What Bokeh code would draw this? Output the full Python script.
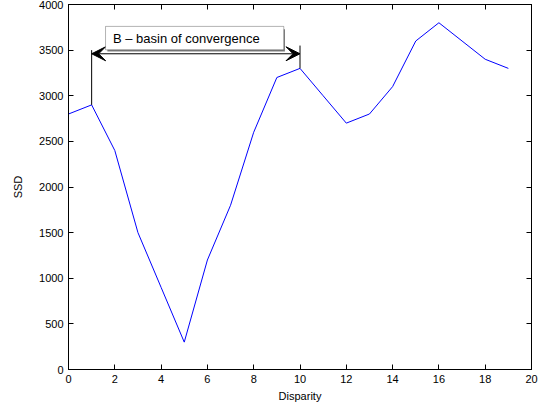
from bokeh.plotting import figure
from bokeh.models import (Range1d, LinearAxis, FixedTicker, Arrow, VeeHead,
                          BoxAnnotation, Label, CustomJSTickFormatter)
from bokeh.embed import file_html
from bokeh.resources import INLINE

# data
disparity = [0, 1, 2, 3, 4, 5, 6, 7, 8, 9, 10, 11, 12, 13, 14, 15, 16, 17, 18, 19]
ssd = [2800, 2900, 2400, 1500, 900, 300, 1200, 1800, 2600, 3200, 3300, 3000,
       2700, 2800, 3100, 3600, 3800, 3600, 3400, 3300]
x_ticks = list(range(0, 21, 2))
y_ticks = list(range(0, 4001, 500))
annotation_text = "B \u2013 basin of convergence"
basin_start, basin_end = 1, 10

FONT = "Liberation Sans"

p = figure(width=552, height=411, output_backend="svg", toolbar_location=None,
           x_range=Range1d(0, 20), y_range=Range1d(0, 4000),
           min_border_left=68, min_border_right=21, min_border_top=4,
           min_border_bottom=42, x_axis_label="Disparity", y_axis_label="SSD")
p.grid.visible = False
p.outline_line_color = "black"
p.outline_line_width = 1
p.background_fill_color = "white"
p.border_fill_color = "white"

p.line(disparity, ssd, line_color="#0000ff", line_width=1)

def style(ax, ticks, labels=True):
    ax.ticker = FixedTicker(ticks=ticks)
    ax.major_tick_in = 5
    ax.major_tick_out = 0
    ax.minor_tick_line_color = None
    ax.axis_line_color = "black"
    ax.major_tick_line_color = "black"
    ax.major_label_text_font = FONT
    ax.axis_label_text_font = FONT
    ax.axis_label_text_font_style = "normal"
    ax.axis_label_text_font_size = "11px"
    ax.axis_label_text_color = "black"
    if labels:
        ax.major_label_text_color = "black"
        ax.major_label_text_font_size = "11px"
        ax.major_label_standoff = 5
    else:
        ax.major_label_text_color = None
        ax.major_label_text_font_size = "1px"
        ax.major_label_standoff = 0
        ax.formatter = CustomJSTickFormatter(code="return ''")

style(p.xaxis[0], x_ticks)
style(p.yaxis[0], y_ticks)
p.xaxis[0].axis_label_standoff = 4
p.yaxis[0].axis_label_standoff = 12

top = LinearAxis()
right = LinearAxis()
style(top, x_ticks, labels=False)
style(right, y_ticks, labels=False)
p.add_layout(top, "above")
p.add_layout(right, "right")

# annotation: vertical lines
p.segment(x0=[basin_start, basin_end], y0=[ssd[basin_start], ssd[basin_end]],
          x1=[basin_start, basin_end], y1=[3500, 3550],
          line_color="black", line_width=1)
# double arrow
p.add_layout(Arrow(x_start=basin_start, y_start=3460, x_end=basin_end, y_end=3460,
                   line_color="black", line_width=1,
                   start=VeeHead(size=14, fill_color="black", line_color="black"),
                   end=VeeHead(size=14, fill_color="black", line_color="black")))
# text box with shadow
p.add_layout(BoxAnnotation(left=1.68, right=9.35, top=3730, bottom=3485,
                           fill_color="#808080", fill_alpha=1, line_color=None))
p.add_layout(BoxAnnotation(left=1.6, right=9.3, top=3760, bottom=3503,
                           fill_color="white", fill_alpha=1, line_color="black",
                           line_width=1))
p.add_layout(Label(x=1.92, y=3632, text=annotation_text, text_font=FONT,
                   text_font_size="13px", text_color="black",
                   text_baseline="middle", text_align="left"))

open("out.html", "w").write(file_html(p, INLINE))
